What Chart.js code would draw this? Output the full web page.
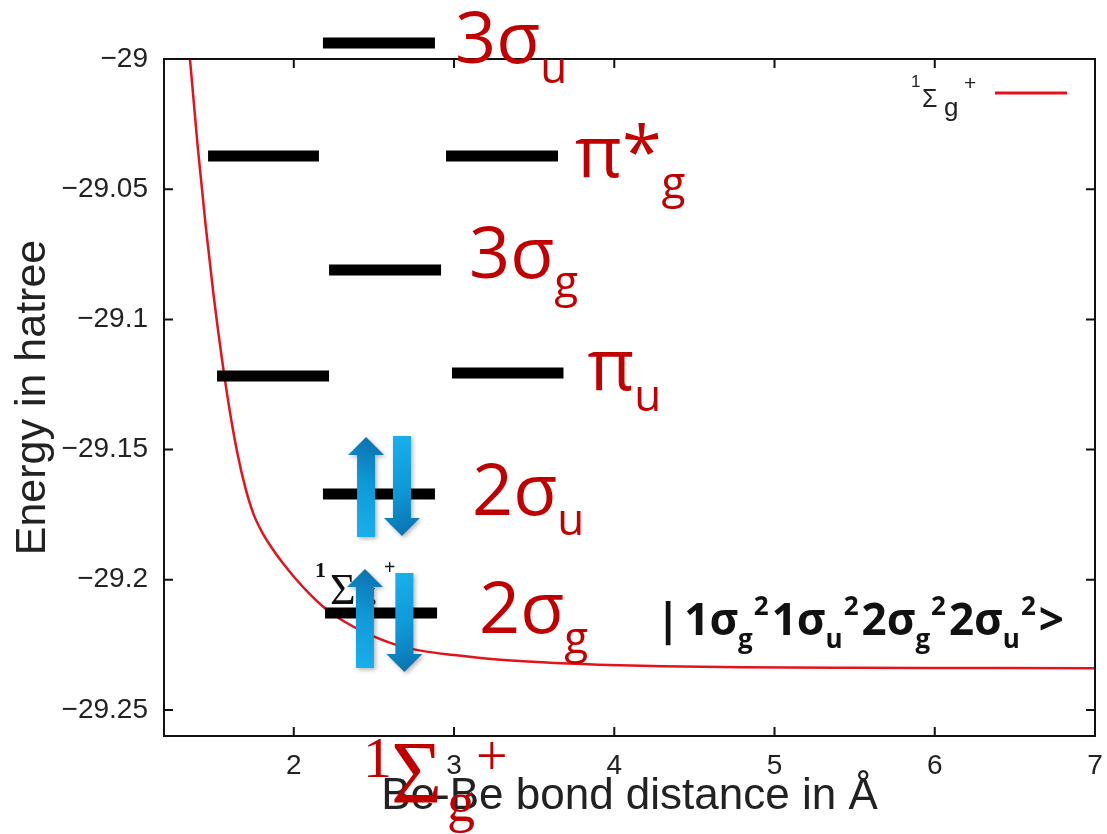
<!DOCTYPE html>
<html><head><meta charset="utf-8">
<script src="https://cdn.jsdelivr.net/npm/chart.js@4.4.1/dist/chart.umd.min.js"></script>
<style>html,body{margin:0;padding:0;background:#fff}#wrap{width:1107px;height:834px;position:relative}</style>
</head><body><div id="wrap"><canvas id="c"></canvas></div>
<script>
// ---- data ----
const bondDistance = [1.30, 1.352, 1.40, 1.45, 1.50, 1.55, 1.60, 1.65, 1.70, 1.75, 1.80, 1.86, 1.93, 2.01, 2.10, 2.20, 2.32, 2.46, 2.62, 2.80, 3.00, 3.25, 3.55, 3.90, 4.30, 4.80, 5.50, 6.20, 7.00];
const energy = [-28.959, -29.000, -29.0335, -29.064, -29.091, -29.1145, -29.135, -29.152, -29.1652, -29.175, -29.1815, -29.1875, -29.1935, -29.1995, -29.2055, -29.2112, -29.2162, -29.2207, -29.2246, -29.2273, -29.2289, -29.2305, -29.2317, -29.2326, -29.2332, -29.2336, -29.2338, -29.2339, -29.234];
const xTicks = [2, 3, 4, 5, 6, 7];
const yTicks = [-29.25, -29.2, -29.15, -29.1, -29.05, -29];
const xRange = [1.19, 7];
const yRange = [-29.26, -29];

// orbital level bars (energy, start, end in axis units)
const barLevel = ['3σu', 'π*g', 'π*g', '3σg', 'πu', 'πu', '2σu', '2σg'];
const barEnergy = [-28.9939, -29.0373, -29.0373, -29.0810, -29.1217, -29.1206, -29.1671, -29.2128];
const barXStart = [2.182, 1.465, 2.950, 2.220, 1.521, 2.987, 2.182, 2.195];
const barXEnd = [2.881, 2.157, 3.649, 2.919, 2.220, 3.683, 2.881, 2.894];

// electron spin arrows
const arrowX = [2.451, 2.675, 2.444, 2.690];
const arrowFrom = [-29.1836, -29.1448, -29.2339, -29.1974];
const arrowTo = [-29.1452, -29.1832, -29.1959, -29.2354];

// orbital labels
const labelMain = ['3σ', 'π*', '3σ', 'π', '2σ', '2σ'];
const labelSub = ['u', 'g', 'g', 'u', 'u', 'g'];
const labelBar = [0, 2, 3, 5, 6, 7];

const seriesName = '¹Σg⁺';
const xTitle = 'Be-Be bond distance in Å';
const yTitle = 'Energy in hatree';

// ---- annotation layout (pixel offsets) ----
const labelDx = [23, 20, 31, 27, 40, 45];
const labelDy = [20, 21, 8, 17, 21, 20];
const labelSubDy = [40, 42, 27, 38, 41, 40];
const RED = '#c00000';

function rich(ctx, x, y, pieces) {
  let cx = x;
  for (const p of pieces) {
    ctx.font = p.f;
    ctx.fillText(p.t, cx, y + (p.dy || 0));
    cx += ctx.measureText(p.t).width + (p.gap || 0);
  }
  return cx;
}

function arrowPath(ctx, x, yTail, yTip, sw, hw, hl) {
  const dir = yTip < yTail ? -1 : 1;
  const yb = yTip - dir * hl;
  ctx.beginPath();
  ctx.moveTo(x - sw / 2, yTail);
  ctx.lineTo(x - sw / 2, yb);
  ctx.lineTo(x - hw / 2, yb);
  ctx.lineTo(x, yTip);
  ctx.lineTo(x + hw / 2, yb);
  ctx.lineTo(x + sw / 2, yb);
  ctx.lineTo(x + sw / 2, yTail);
  ctx.closePath();
}

const behindPlugin = {
  id: 'behind',
  beforeDatasetsDraw(chart) {
    const ctx = chart.ctx, xs = chart.scales.x, ys = chart.scales.y;
    const ax = xs.getPixelForValue(2.132), ay = ys.getPixelForValue(-29.199);
    ctx.save();
    ctx.fillStyle = '#111';
    ctx.textBaseline = 'alphabetic';
    ctx.font = 'bold 22px "Liberation Serif"';
    ctx.fillText('1', ax, ay);
    ctx.font = '44px "Liberation Serif"';
    ctx.fillText('Σ', ax + 15, ay + 27);
    ctx.font = '26px "Liberation Serif"';
    ctx.fillText('g', ax + 48, ay + 24);
    ctx.font = 'bold 20px "Liberation Serif"';
    ctx.fillText('+', ax + 69, ay - 3);
    ctx.restore();
  }
};

const overlayPlugin = {
  id: 'overlay',
  afterDatasetsDraw(chart) {
    const ctx = chart.ctx, ca = chart.chartArea, xs = chart.scales.x, ys = chart.scales.y;
    ctx.save();
    // frame
    ctx.strokeStyle = '#111';
    ctx.lineWidth = 2;
    ctx.strokeRect(ca.left, ca.top, ca.right - ca.left, ca.bottom - ca.top);
    const tl = 9;
    ctx.beginPath();
    for (const v of xTicks) {
      const px = xs.getPixelForValue(v);
      if (px <= ca.left + 1 || px >= ca.right - 1) continue;
      ctx.moveTo(px, ca.bottom); ctx.lineTo(px, ca.bottom - tl);
      ctx.moveTo(px, ca.top); ctx.lineTo(px, ca.top + tl);
    }
    for (const v of yTicks) {
      const py = ys.getPixelForValue(v);
      if (py <= ca.top + 1 || py >= ca.bottom - 1) continue;
      ctx.moveTo(ca.left, py); ctx.lineTo(ca.left + tl, py);
      ctx.moveTo(ca.right, py); ctx.lineTo(ca.right - tl, py);
    }
    ctx.stroke();

    // legend
    ctx.fillStyle = '#222';
    ctx.textBaseline = 'alphabetic';
    ctx.font = '17px "Liberation Sans"';
    ctx.fillText('1', ca.right - 184, ca.top + 28);
    ctx.font = '25px "Liberation Sans"';
    ctx.fillText('Σ', ca.right - 173, ca.top + 48);
    ctx.font = '26px "Liberation Sans"';
    ctx.fillText('g', ca.right - 151, ca.top + 57);
    ctx.font = '21px "Liberation Sans"';
    ctx.fillText('+', ca.right - 131, ca.top + 31);
    ctx.strokeStyle = '#e3121b';
    ctx.lineWidth = 3;
    ctx.beginPath();
    ctx.moveTo(ca.right - 100, ca.top + 34);
    ctx.lineTo(ca.right - 28, ca.top + 34);
    ctx.stroke();

    // arrows
    for (let i = 0; i < arrowX.length; i++) {
      const x = xs.getPixelForValue(arrowX[i]);
      const y0 = ys.getPixelForValue(arrowFrom[i]);
      const y1 = ys.getPixelForValue(arrowTo[i]);
      const g = ctx.createLinearGradient(x - 18, y0, x + 18, y1);
      g.addColorStop(0, '#1ab2ee');
      g.addColorStop(0.55, '#0f97d6');
      g.addColorStop(1, '#0a6eaa');
      ctx.save();
      ctx.shadowColor = 'rgba(0,0,0,0.28)';
      ctx.shadowBlur = 4;
      ctx.shadowOffsetX = 2;
      ctx.shadowOffsetY = 2;
      arrowPath(ctx, x, y0, y1, 18, 36, 18);
      ctx.fillStyle = g;
      ctx.fill();
      ctx.restore();
    }

    // configuration ket
    const kx = xs.getPixelForValue(4.304), ky = ys.getPixelForValue(-29.2212);
    ctx.fillStyle = '#111';
    const M = 'bold 44px "Open Sans"', S = 'bold 26px "Open Sans"';
    const pieces = [{t: '|', f: M, gap: 4}];
    const cfg = [['1σ', 'g'], ['1σ', 'u'], ['2σ', 'g'], ['2σ', 'u']];
    for (const [m, s] of cfg) {
      pieces.push({t: m, f: M});
      pieces.push({t: s, f: S, dy: 13, gap: 1});
      pieces.push({t: '2', f: S, dy: -20, gap: 3});
    }
    pieces.push({t: '>', f: M});
    rich(ctx, kx - 7, ky, pieces);

    // red orbital labels
    ctx.fillStyle = RED;
    for (let i = 0; i < labelMain.length; i++) {
      const b = labelBar[i];
      const x = xs.getPixelForValue(barXEnd[b]) + labelDx[i] - 3;
      const y = ys.getPixelForValue(barEnergy[b]);
      ctx.font = '72px "Open Sans"';
      ctx.fillText(labelMain[i], x, y + labelDy[i]);
      const w = ctx.measureText(labelMain[i]).width;
      ctx.font = '44px "Open Sans"';
      ctx.fillText(labelSub[i], x + w, y + labelSubDy[i]);
    }

    // red term symbol under the axis
    const tx = xs.getPixelForValue(2.444), tb = ca.bottom;
    ctx.font = '58px "Liberation Serif"';
    ctx.fillText('1', tx - 2, tb + 41);
    ctx.font = '88px "Liberation Serif"';
    ctx.fillText('Σ', tx + 26, tb + 66);
    ctx.font = '56px "Liberation Serif"';
    ctx.fillText('g', tx + 82, tb + 85);
    ctx.font = '56px "Liberation Serif"';
    ctx.fillText('+', tx + 111, tb + 39);
    ctx.restore();
  }
};

const curve = bondDistance.map((x, i) => ({x, y: energy[i]}));
const barSets = barLevel.map((name, i) => ({
  label: name,
  data: [{x: barXStart[i], y: barEnergy[i]}, {x: barXEnd[i], y: barEnergy[i]}],
  borderColor: '#000',
  borderWidth: 11,
  borderCapStyle: 'butt',
  pointRadius: 0,
  clip: false,
  order: 0
}));

new Chart(document.getElementById('c'), {
  type: 'line',
  data: {
    datasets: [{
      label: seriesName,
      data: curve,
      borderColor: '#e3121b',
      borderWidth: 2.5,
      pointRadius: 0,
      cubicInterpolationMode: 'monotone',
      order: 1
    }, ...barSets]
  },
  options: {
    responsive: true,
    maintainAspectRatio: false,
    animation: false,
    layout: {padding: {top: 59, right: 12, left: 0, bottom: 0}},
    plugins: {legend: {display: false}, tooltip: {enabled: false}},
    scales: {
      x: {
        type: 'linear', min: xRange[0], max: xRange[1],
        afterBuildTicks: s => { s.ticks = xTicks.map(v => ({value: v})); },
        afterFit: s => { s.height = 98; s.paddingLeft = 0; s.paddingRight = 0; },
        grid: {display: false, drawTicks: false},
        border: {display: false},
        ticks: {autoSkip: false, maxRotation: 0, padding: 13, color: '#222', font: {family: 'Liberation Sans', size: 28}},
        title: {display: true, text: xTitle, color: '#222', font: {family: 'Liberation Sans', size: 44}, padding: {top: 0, bottom: 11}}
      },
      y: {
        type: 'linear', min: yRange[0], max: yRange[1],
        afterBuildTicks: s => { s.ticks = yTicks.map(v => ({value: v})); },
        afterFit: s => { s.width = 164; s.paddingTop = 0; s.paddingBottom = 0; },
        grid: {display: false, drawTicks: false},
        border: {display: false},
        ticks: {autoSkip: false, padding: 16, color: '#222', font: {family: 'Liberation Sans', size: 28},
          callback: v => '\u2212' + String(Math.abs(v))},
        title: {display: true, text: yTitle, color: '#222', font: {family: 'Liberation Sans', size: 43}, padding: {top: 7, bottom: 0}}
      }
    }
  },
  plugins: [behindPlugin, overlayPlugin]
});
</script>
</body></html>
